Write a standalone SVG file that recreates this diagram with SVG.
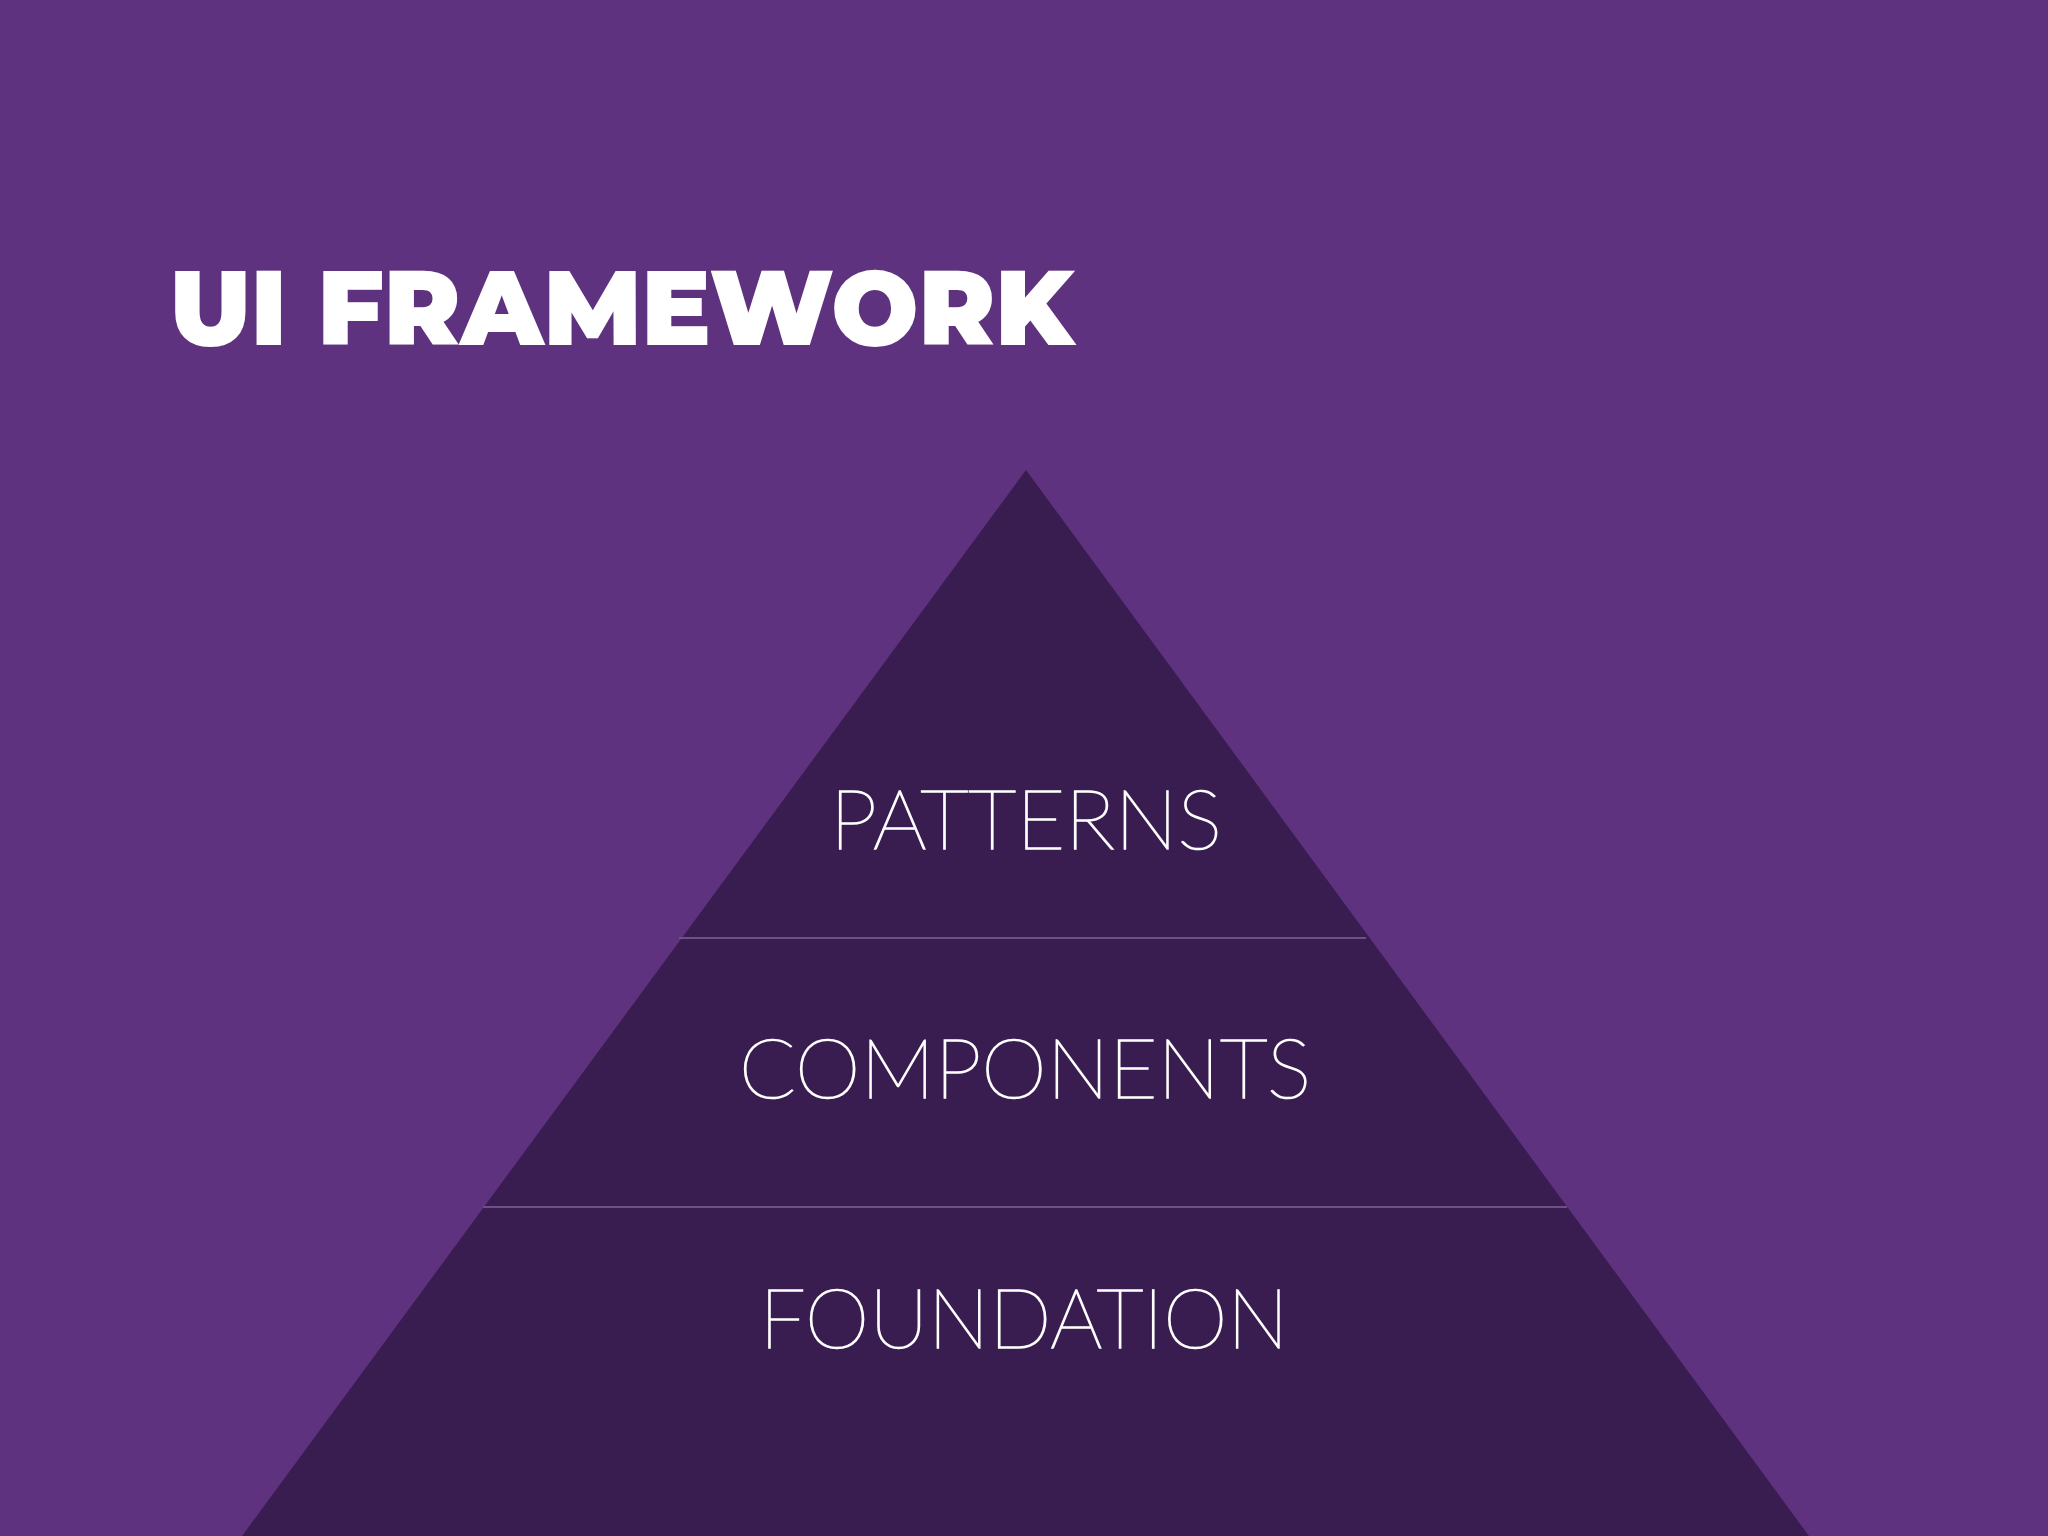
<svg xmlns="http://www.w3.org/2000/svg" width="2048" height="1536" viewBox="0 0 2048 1536">
<style>
.lbl{font-family:Lato,"Open Sans","Noto Sans",sans-serif;font-weight:100;fill:none;stroke:#ffffff;stroke-width:1.6;font-size:82px;text-anchor:middle}
.div{stroke:#6e5088;stroke-width:2}
</style>
<rect width="2048" height="1536" fill="#5e327e"/>
<g id="title"><text x="170" y="345" font-family="Montserrat,'Liberation Sans',Arial,sans-serif" font-weight="900" font-size="106" fill="#ffffff" textLength="904" lengthAdjust="spacingAndGlyphs">UI FRAMEWORK</text></g>
<g id="pyramid">
<polygon points="1026,470 1809,1536 242,1536" fill="#3a1d50"/>
</g>
<g id="connectors">
<line class="div" x1="679" y1="938" x2="1366" y2="938"/>
<line class="div" x1="483" y1="1207" x2="1567" y2="1207"/>
</g>
<g id="patterns"><text class="lbl" x="1026" y="849" textLength="392" lengthAdjust="spacingAndGlyphs">PATTERNS</text></g>
<g id="components"><text class="lbl" x="1025" y="1098" textLength="572" lengthAdjust="spacingAndGlyphs">COMPONENTS</text></g>
<g id="foundation"><text class="lbl" x="1024" y="1348" textLength="529" lengthAdjust="spacingAndGlyphs">FOUNDATION</text></g>
</svg>
